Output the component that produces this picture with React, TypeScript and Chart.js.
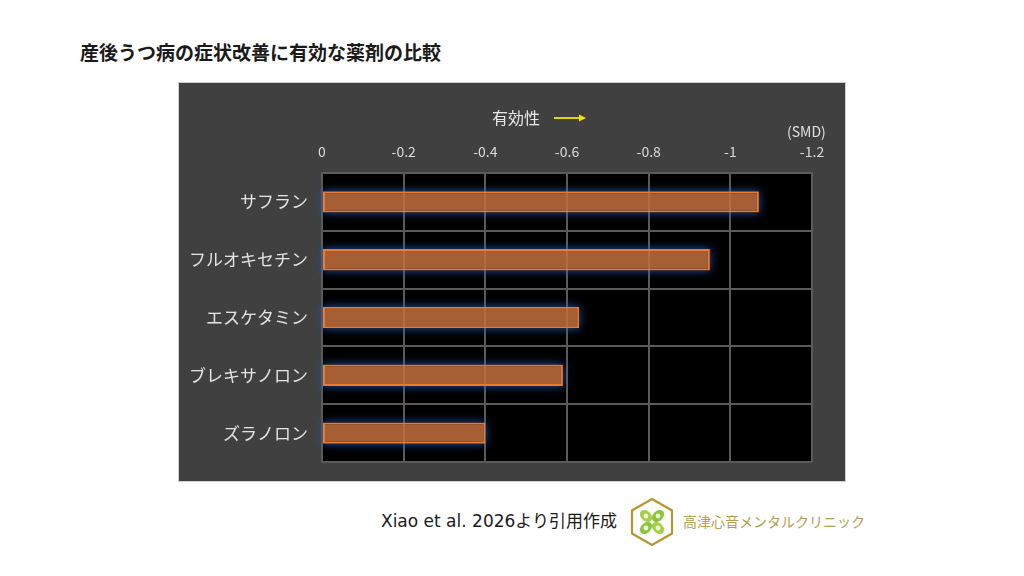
import React, { useEffect, useRef } from "react";
import { Chart, registerables } from "chart.js";

Chart.register(...registerables);

const titleText = "産後うつ病の症状改善に有効な薬剤の比較";
const categories = ["サフラン", "フルオキセチン", "エスケタミン", "ブレキサノロン", "ズラノロン"];
const smdValues = [-1.07, -0.95, -0.63, -0.59, -0.4];
const tickValues = [0, -0.2, -0.4, -0.6, -0.8, -1, -1.2];
const tickLabels = ["0", "-0.2", "-0.4", "-0.6", "-0.8", "-1", "-1.2"];
const axisCaption = "有効性";
const unitLabel = "(SMD)";
const sourceText = "Xiao et al. 2026より引用作成";
const clinicName = "高津心音メンタルクリニック";

const JP = '"Noto Sans CJK JP", "Noto Sans", sans-serif';
const GRID = "#5a5a5a";

const plotBg = {
  id: "plotBg",
  beforeDraw(chart: any) {
    const { ctx, chartArea } = chart;
    ctx.save();
    ctx.fillStyle = "#000000";
    ctx.fillRect(chartArea.left, chartArea.top, chartArea.right - chartArea.left, chartArea.bottom - chartArea.top);
    ctx.restore();
  },
};

// blue glow drawn only outside each bar (shadow of an off-screen rect)
const glow = {
  id: "glow",
  beforeDatasetsDraw(chart: any) {
    const ctx = chart.ctx;
    const ca = chart.chartArea;
    const meta = chart.getDatasetMeta(0);
    meta.data.forEach((bar: any) => {
      const p = bar.getProps(["x", "y", "base", "height"], true);
      const left = Math.min(p.x, p.base);
      const right = Math.max(p.x, p.base);
      const top = p.y - p.height / 2;
      const h = p.height;
      ctx.save();
      ctx.beginPath();
      ctx.rect(ca.left - 20, ca.top - 20, ca.right - ca.left + 40, ca.bottom - ca.top + 40);
      ctx.rect(left, top, right - left, h);
      ctx.clip("evenodd");
      const off = 5000;
      ctx.shadowColor = "rgba(35,95,200,0.9)";
      ctx.shadowBlur = 9;
      ctx.shadowOffsetX = off;
      ctx.fillStyle = "#000";
      ctx.fillRect(left - off, top, right - left, h);
      ctx.restore();
    });
  },
};

function BarChart() {
  const ref = useRef<HTMLCanvasElement | null>(null);
  useEffect(() => {
    if (!ref.current) return;
    const chart = new Chart(ref.current, {
      type: "bar",
      data: {
        labels: categories,
        datasets: [
          {
            data: smdValues,
            backgroundColor: "rgba(198,113,63,0.84)",
            borderColor: "#ec7a30",
            borderWidth: 2,
            borderSkipped: false,
            categoryPercentage: 1,
            barPercentage: 0.37,
          },
        ],
      },
      options: {
        indexAxis: "y",
        animation: false,
        responsive: false,
        devicePixelRatio: 1,
        layout: { padding: { left: 0, top: 0, right: 33, bottom: 19 } },
        plugins: { legend: { display: false }, tooltip: { enabled: false }, title: { display: false } },
        scales: {
          x: {
            type: "linear",
            position: "top",
            min: -1.2,
            max: 0,
            reverse: true,
            ticks: {
              stepSize: 0.2,
              color: "#d9d9d9",
              font: { family: JP, size: 14 },
              padding: 13,
              callback: (v: any) => {
                let best = 0;
                tickValues.forEach((t, i) => {
                  if (Math.abs(t - Number(v)) < Math.abs(tickValues[best] - Number(v))) best = i;
                });
                return tickLabels[best];
              },
            },
            grid: { color: GRID, lineWidth: 2, drawTicks: false },
            border: { display: true, color: GRID, width: 2 },
            afterFit: (s: any) => {
              s.height = 90;
              s.paddingLeft = 0;
              s.paddingRight = 0;
            },
          },
          y: {
            type: "category",
            ticks: { color: "#e3e3e3", font: { family: JP, size: 17 }, padding: 14 },
            grid: { color: GRID, lineWidth: 2, drawTicks: false, offset: true },
            border: { display: true, color: GRID, width: 2 },
            afterFit: (s: any) => {
              s.width = 143;
              s.paddingTop = 0;
              s.paddingBottom = 0;
            },
          },
        },
      },
      plugins: [plotBg, glow],
    } as any);
    return () => chart.destroy();
  }, []);
  return <canvas ref={ref} width={666} height={398} style={{ width: 666, height: 398, display: "block" }} />;
}

export default function App() {
  return (
    <div style={{ position: "fixed", left: 0, top: 0, width: 1024, height: 576, background: "#ffffff", overflow: "hidden" }}>
      <div
        style={{
          position: "absolute",
          left: 80,
          top: 40,
          height: 24,
          lineHeight: "24px",
          fontFamily: JP,
          fontWeight: 700,
          fontSize: 19,
          color: "#1a1a1a",
          whiteSpace: "nowrap",
        }}
      >
        {titleText}
      </div>
      <div
        style={{
          position: "absolute",
          left: 178,
          top: 82,
          width: 666,
          height: 398,
          background: "#404040",
          border: "1px solid #cfcfcf",
        }}
      >
        <BarChart />
        <div
          style={{
            position: "absolute",
            left: 313,
            top: 23,
            height: 22,
            lineHeight: "22px",
            fontFamily: JP,
            fontSize: 16,
            color: "#e8e8e8",
            whiteSpace: "nowrap",
          }}
        >
          {axisCaption}
        </div>
        <svg style={{ position: "absolute", left: 373, top: 28 }} width={36} height={12}>
          <line x1={2} y1={7} x2={28} y2={7} stroke="#f2e600" strokeWidth={1.8} />
          <polygon points="34,7 27,3.5 27,10.5" fill="#f2e600" />
        </svg>
        <div
          style={{
            position: "absolute",
            left: 608,
            top: 38,
            height: 20,
            lineHeight: "20px",
            fontFamily: JP,
            fontSize: 14,
            color: "#e0e0e0",
            whiteSpace: "nowrap",
          }}
        >
          {unitLabel}
        </div>
      </div>
      <div
        style={{
          position: "absolute",
          left: 381,
          top: 509,
          height: 24,
          lineHeight: "24px",
          fontFamily: '"DejaVu Sans", "Noto Sans CJK JP", sans-serif',
          fontSize: 17,
          color: "#1a1a1a",
          whiteSpace: "nowrap",
        }}
      >
        {sourceText}
      </div>
      <svg style={{ position: "absolute", left: 629, top: 496 }} width={46} height={52}>
        <polygon points="23,3 43,14.5 43,37.5 23,49 3,37.5 3,14.5" fill="#ffffff" stroke="#b8962e" strokeWidth={2.2} />
        <g transform="translate(23,26)">
          <ellipse cx={-6} cy={-6} rx={7} ry={5} transform="rotate(45 -6 -6)" fill="#a6d04a" />
          <ellipse cx={6} cy={-6} rx={7} ry={5} transform="rotate(-45 6 -6)" fill="#8cc63f" />
          <ellipse cx={-6} cy={6} rx={7} ry={5} transform="rotate(-45 -6 6)" fill="#8cc63f" />
          <ellipse cx={6} cy={6} rx={7} ry={5} transform="rotate(45 6 6)" fill="#a6d04a" />
          <circle cx={-6} cy={-6} r={2.4} fill="#eef6d8" />
          <circle cx={6} cy={-6} r={2.4} fill="#eef6d8" />
          <circle cx={-6} cy={6} r={2.4} fill="#eef6d8" />
          <circle cx={6} cy={6} r={2.4} fill="#eef6d8" />
        </g>
      </svg>
      <div
        style={{
          position: "absolute",
          left: 683,
          top: 510,
          height: 22,
          lineHeight: "22px",
          fontFamily: JP,
          fontSize: 14,
          color: "#b49d4c",
          whiteSpace: "nowrap",
        }}
      >
        {clinicName}
      </div>
    </div>
  );
}
